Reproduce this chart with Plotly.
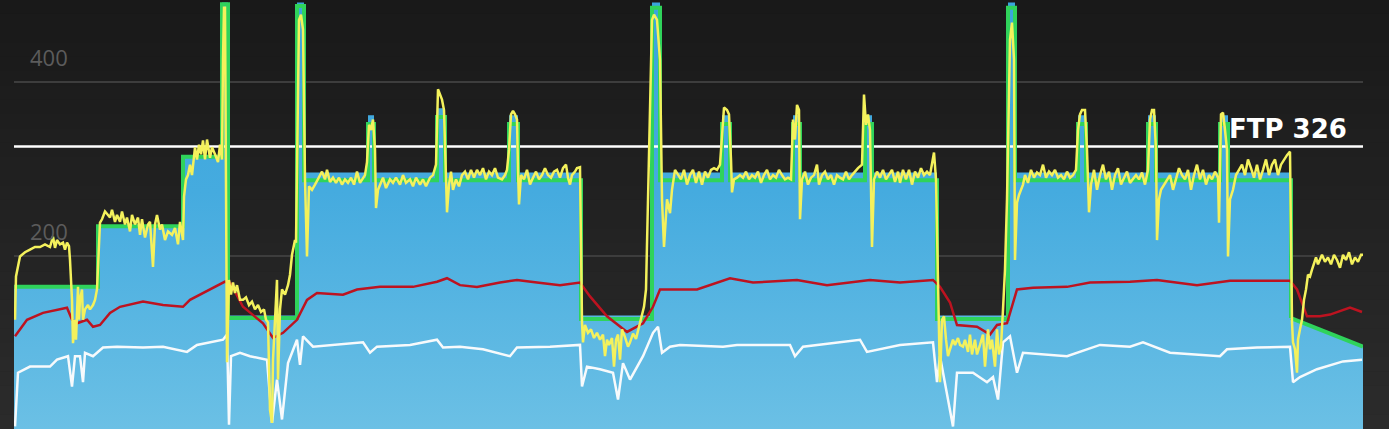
import plotly.graph_objects as go

# ---------------- data (time in seconds, values in watts) ----------------
t_target = [0, 336, 676, 832, 856, 1132, 1160, 1416, 1440, 1692, 1724, 1980, 2016, 2268,
            2552, 2584, 2832, 2864, 3116, 3144, 3404, 3432, 3692, 3976, 4004, 4256, 4288,
            4536, 4568, 4824, 4856, 5108]
target_range = [164, 234, 314, 492, 131, 492, 296, 362, 296, 370, 296, 362, 296, 131,
                492, 296, 362, 296, 362, 296, 362, 296, 131, 492, 296, 362, 296,
                362, 296, 362, 296, 128]
target = [164, 234, 314, 490, 128, 488, 287, 352, 287, 360, 287, 352, 287, 127,
          486, 287, 352, 287, 352, 287, 352, 287, 127, 486, 287, 352, 287,
          352, 287, 352, 287, 128]
t_cool = [5108, 5396]
cool_target = [128, 95]

t_power = [4, 8, 24, 44, 64, 84, 104, 124, 144, 156, 164, 172, 184, 196, 204, 212, 220, 224, 232, 236,
           244, 248, 256, 260, 264, 272, 276, 284, 296, 304, 316, 324, 332, 344, 352, 364, 376, 384, 392, 404,
           412, 424, 432, 444, 452, 464, 472, 484, 496, 504, 512, 524, 536, 544, 556, 564, 572, 584, 592, 604,
           616, 632, 644, 656, 664, 676, 680, 688, 696, 704, 712, 724, 732, 740, 748, 756, 764, 772, 784, 792,
           804, 816, 824, 832, 836, 840, 844, 848, 852, 860, 868, 876, 884, 892, 904, 916, 928, 940, 952, 964,
           976, 988, 1000, 1008, 1016, 1024, 1032, 1036, 1044, 1052, 1056, 1064, 1072, 1084, 1096, 1104, 1112, 1124, 1128, 1132,
           1140, 1148, 1156, 1164, 1172, 1180, 1192, 1204, 1216, 1232, 1244, 1252, 1264, 1276, 1288, 1300, 1312, 1324, 1336, 1348,
           1360, 1372, 1384, 1396, 1404, 1412, 1420, 1428, 1436, 1444, 1448, 1456, 1464, 1476, 1488, 1504, 1516, 1528, 1544, 1556,
           1568, 1584, 1596, 1608, 1624, 1636, 1648, 1664, 1676, 1688, 1696, 1704, 1712, 1720, 1728, 1732, 1740, 1748, 1756, 1768,
           1780, 1792, 1804, 1816, 1828, 1840, 1852, 1864, 1876, 1888, 1900, 1912, 1924, 1936, 1952, 1964, 1972, 1980, 1988, 1996,
           2004, 2012, 2016, 2020, 2028, 2040, 2052, 2064, 2076, 2088, 2100, 2112, 2124, 2136, 2148, 2160, 2172, 2184, 2196, 2208,
           2216, 2224, 2232, 2244, 2252, 2264, 2272, 2276, 2284, 2296, 2308, 2320, 2332, 2344, 2356, 2364, 2372, 2380, 2392, 2400,
           2408, 2416, 2424, 2432, 2444, 2456, 2464, 2476, 2488, 2504, 2520, 2528, 2536, 2544, 2552, 2560, 2572, 2584, 2592, 2600,
           2612, 2624, 2632, 2644, 2656, 2668, 2680, 2692, 2704, 2716, 2728, 2740, 2752, 2764, 2776, 2788, 2800, 2812, 2824, 2832,
           2840, 2852, 2860, 2868, 2872, 2880, 2892, 2904, 2916, 2928, 2940, 2952, 2964, 2976, 2988, 3000, 3012, 3024, 3036, 3048,
           3060, 3072, 3084, 3096, 3108, 3116, 3124, 3132, 3140, 3144, 3152, 3164, 3176, 3188, 3200, 3212, 3220, 3232, 3244, 3256,
           3268, 3280, 3292, 3304, 3316, 3328, 3340, 3352, 3364, 3376, 3392, 3400, 3408, 3416, 3424, 3432, 3440, 3452, 3464, 3476,
           3488, 3500, 3512, 3524, 3536, 3544, 3556, 3568, 3580, 3592, 3604, 3616, 3628, 3640, 3652, 3664, 3676, 3680, 3688, 3696,
           3704, 3712, 3720, 3728, 3736, 3744, 3756, 3764, 3776, 3784, 3796, 3804, 3816, 3824, 3832, 3844, 3852, 3864, 3876, 3884,
           3896, 3904, 3912, 3924, 3932, 3940, 3948, 3956, 3964, 3972, 3980, 3984, 3992, 4000, 4004, 4012, 4020, 4028, 4036, 4044,
           4056, 4068, 4080, 4092, 4104, 4116, 4128, 4140, 4152, 4164, 4176, 4188, 4200, 4212, 4224, 4236, 4248, 4256, 4264, 4272,
           4284, 4292, 4300, 4308, 4320, 4332, 4344, 4356, 4368, 4380, 4392, 4404, 4416, 4428, 4440, 4452, 4464, 4476, 4488, 4500,
           4512, 4524, 4536, 4544, 4552, 4560, 4568, 4572, 4580, 4588, 4600, 4612, 4624, 4636, 4648, 4660, 4672, 4684, 4696, 4708,
           4720, 4732, 4744, 4756, 4768, 4780, 4792, 4804, 4816, 4820, 4828, 4836, 4844, 4852, 4856, 4864, 4876, 4888, 4900, 4912,
           4924, 4936, 4948, 4960, 4972, 4984, 4996, 5008, 5020, 5032, 5044, 5056, 5068, 5080, 5092, 5104, 5112, 5116, 5124, 5132,
           5136, 5144, 5152, 5160, 5168, 5176, 5184, 5192, 5200, 5208, 5216, 5224, 5232, 5244, 5256, 5268, 5280, 5292, 5304, 5316,
           5328, 5340, 5352, 5364, 5376, 5388, 5396]
power = [126, 176, 199, 204, 207, 210, 210, 213, 210, 222, 209, 218, 213, 215, 207, 215, 211, 195, 149, 99,
         126, 103, 164, 126, 149, 161, 126, 138, 143, 138, 143, 149, 161, 238, 242, 251, 247, 244, 253, 239,
         247, 239, 251, 236, 244, 228, 247, 236, 244, 224, 242, 221, 236, 239, 187, 236, 247, 230, 236, 218,
         228, 224, 232, 213, 239, 218, 268, 288, 293, 305, 293, 325, 311, 328, 317, 333, 311, 334, 313, 325,
         317, 308, 328, 311, 426, 486, 486, 322, 77, 172, 155, 169, 157, 166, 149, 149, 152, 143, 147, 138,
         143, 135, 138, 126, 123, 22, 7, 80, 123, 172, 57, 138, 161, 155, 166, 178, 201, 218, 215, 322,
         472, 478, 461, 288, 199, 280, 276, 282, 288, 297, 288, 299, 285, 290, 284, 290, 282, 288, 284, 290,
         282, 297, 284, 290, 293, 308, 351, 345, 357, 322, 255, 276, 282, 290, 278, 288, 284, 290, 282, 293,
         284, 288, 280, 290, 282, 288, 280, 290, 293, 305, 392, 386, 380, 368, 293, 250, 282, 297, 276, 288,
         280, 293, 297, 288, 299, 290, 299, 293, 301, 288, 297, 293, 301, 290, 288, 293, 299, 322, 363, 367,
         363, 357, 299, 259, 293, 288, 299, 282, 290, 297, 288, 293, 301, 293, 290, 297, 299, 290, 301, 305,
         290, 282, 293, 297, 301, 302, 123, 100, 120, 111, 115, 105, 111, 103, 109, 84, 103, 97, 105, 72,
         103, 109, 80, 115, 106, 95, 100, 110, 104, 122, 141, 161, 276, 392, 472, 478, 472, 426, 265, 210,
         265, 249, 276, 299, 293, 288, 299, 282, 293, 299, 284, 297, 282, 297, 290, 299, 301, 299, 305, 345,
         371, 368, 363, 311, 273, 288, 290, 293, 290, 297, 288, 293, 290, 297, 284, 293, 299, 288, 293, 290,
         299, 293, 288, 290, 288, 357, 334, 374, 368, 242, 288, 297, 282, 290, 293, 305, 282, 293, 297, 288,
         293, 282, 293, 290, 288, 297, 288, 293, 297, 301, 305, 386, 351, 363, 345, 210, 288, 297, 290, 299,
         288, 293, 299, 285, 297, 284, 299, 288, 299, 282, 297, 290, 301, 293, 297, 293, 311, 319, 288, 161,
         54, 126, 130, 103, 84, 92, 103, 97, 105, 97, 95, 103, 89, 109, 86, 103, 86, 97, 109, 72,
         115, 92, 103, 72, 115, 86, 95, 138, 184, 265, 380, 449, 469, 426, 195, 261, 270, 276, 282, 293,
         284, 299, 290, 296, 293, 305, 290, 297, 293, 299, 290, 293, 288, 297, 290, 293, 299, 345, 363, 368,
         368, 322, 250, 282, 299, 276, 293, 305, 288, 297, 276, 293, 301, 282, 290, 297, 284, 288, 293, 288,
         296, 282, 299, 357, 368, 368, 322, 218, 265, 276, 282, 288, 293, 276, 290, 301, 293, 288, 299, 276,
         293, 305, 288, 299, 282, 293, 288, 297, 290, 238, 363, 365, 345, 322, 199, 265, 276, 293, 299, 305,
         293, 311, 301, 290, 305, 288, 299, 311, 293, 305, 311, 293, 305, 311, 316, 320, 123, 100, 92, 65,
         103, 115, 126, 149, 161, 178, 176, 184, 190, 198, 190, 195, 201, 193, 198, 190, 201, 195, 186, 201,
         195, 204, 190, 198, 193, 201, 201]

t_hr = [4, 52, 116, 212, 232, 252, 292, 316, 344, 384, 424, 516, 596, 676, 704, 784, 844, 864, 916, 996,
        1036, 1076, 1132, 1172, 1212, 1316, 1372, 1464, 1596, 1692, 1732, 1784, 1852, 1944, 2012, 2092, 2184, 2264, 2304, 2372,
        2452, 2516, 2556, 2584, 2664, 2732, 2864, 2956, 3132, 3252, 3424, 3544, 3676, 3704, 3744, 3772, 3852, 3904, 3932, 3972,
        4012, 4076, 4212, 4304, 4464, 4572, 4732, 4864, 5104, 5132, 5172, 5224, 5264, 5344, 5392]
heart_rate = [107, 126, 134, 140, 126, 122, 126, 118, 120, 134, 141, 147, 143, 141, 149, 161, 170, 169, 141, 122,
              105, 111, 126, 149, 157, 155, 161, 164, 164, 170, 174, 166, 164, 169, 172, 169, 166, 169, 153, 130,
              112, 122, 141, 161, 161, 161, 174, 169, 172, 166, 172, 169, 172, 164, 146, 120, 118, 109, 120, 122,
              161, 163, 164, 169, 170, 172, 166, 171, 171, 161, 130, 130, 132, 140, 135]

t_cad = [4, 16, 64, 144, 172, 216, 232, 244, 264, 276, 284, 316, 356, 412, 516, 596, 692, 732, 836, 852,
         860, 868, 904, 944, 1012, 1032, 1052, 1072, 1096, 1132, 1144, 1156, 1196, 1396, 1424, 1452, 1584, 1692, 1716, 1784,
         1876, 1984, 2012, 2144, 2264, 2272, 2292, 2344, 2396, 2416, 2436, 2464, 2516, 2556, 2576, 2592, 2624, 2664, 2836, 2892,
         3104, 3124, 3156, 3384, 3412, 3544, 3676, 3692, 3704, 3756, 3772, 3836, 3892, 3916, 3936, 3956, 3984, 4012, 4036, 4212,
         4344, 4464, 4516, 4624, 4824, 4852, 4972, 5104, 5116, 5144, 5212, 5316, 5392]
cadence = [3, 65, 72, 72, 80, 84, 49, 84, 84, 54, 88, 84, 94, 95, 94, 95, 89, 97, 103, 109,
           5, 84, 88, 84, 80, 7, 57, 11, 76, 103, 74, 107, 95, 100, 88, 95, 97, 103, 94, 95,
           92, 84, 94, 95, 97, 49, 72, 69, 65, 34, 76, 57, 84, 111, 118, 88, 95, 97, 95, 97,
           97, 84, 95, 103, 89, 97, 100, 54, 84, 3, 65, 65, 54, 60, 34, 100, 107, 65, 88, 84,
           97, 95, 100, 88, 84, 92, 94, 95, 54, 60, 69, 78, 80]

ftp = 326
y_ticks = [200, 400]

# ---------------- styling ----------------
BLUE_SCALE = [[0, "#6bc0e5"], [0.55, "#45abdf"], [1, "#3aa5dc"]]
GREEN = "#2fd35b"
YELLOW = "#f4f15c"
RED = "#bd1320"
WHITE = "#f7fafc"
T_END = 5396

fig = go.Figure()

fig.add_trace(go.Scatter(x=t_target, y=target_range, mode="lines", line=dict(width=0, shape="hv"),
                         fill="tozeroy", fillgradient=dict(type="vertical", colorscale=BLUE_SCALE, start=0, stop=495),
                         hoverinfo="skip", showlegend=False))
fig.add_trace(go.Scatter(x=t_cool, y=cool_target, mode="lines", line=dict(width=0),
                         fill="tozeroy", fillgradient=dict(type="vertical", colorscale=BLUE_SCALE, start=0, stop=495),
                         hoverinfo="skip", showlegend=False))
fig.add_trace(go.Scatter(x=[0, T_END], y=[ftp, ftp], mode="lines", line=dict(color="white", width=2.5),
                         hoverinfo="skip", showlegend=False))
fig.add_trace(go.Scatter(x=t_target, y=target, mode="lines", line=dict(color=GREEN, width=4, shape="hv"),
                         hoverinfo="skip", showlegend=False))
fig.add_trace(go.Scatter(x=t_cool, y=cool_target, mode="lines", line=dict(color=GREEN, width=4),
                         hoverinfo="skip", showlegend=False))
fig.add_trace(go.Scatter(x=t_cad, y=cadence, mode="lines", line=dict(color=WHITE, width=2.5),
                         hoverinfo="skip", showlegend=False))
fig.add_trace(go.Scatter(x=t_hr, y=heart_rate, mode="lines", line=dict(color=RED, width=2.5),
                         hoverinfo="skip", showlegend=False))
fig.add_trace(go.Scatter(x=t_power, y=power, mode="lines", line=dict(color=YELLOW, width=2.5),
                         hoverinfo="skip", showlegend=False))

# background gradient bands
shapes = []
n = 30
top = (25, 25, 25)
bot = (43, 43, 43)
for i in range(n):
    f = i / (n - 1)
    c = tuple(int(round(top[k] + (bot[k] - top[k]) * f)) for k in range(3))
    shapes.append(dict(type="rect", xref="paper", yref="paper", x0=-0.02, x1=1.03,
                       y0=1 - (i + 1) / n, y1=1 - i / n + 0.001, line=dict(width=0),
                       fillcolor="rgb(%d,%d,%d)" % c, layer="below"))

annotations = []
for v in y_ticks:
    annotations.append(dict(x=56, y=v, xref="x", yref="y", text=str(v), showarrow=False,
                            xanchor="left", yanchor="bottom", yshift=8,
                            font=dict(family="Open Sans", size=22, color="#5c5c5c")))
annotations.append(dict(x=5340, y=ftp, xref="x", yref="y", text="<b>FTP 326</b>", showarrow=False,
                        xanchor="right", yanchor="bottom", yshift=0,
                        font=dict(family="DejaVu Sans", size=26, color="white")))

fig.update_layout(
    width=1389, height=429,
    margin=dict(l=14, r=26, t=0, b=0),
    paper_bgcolor="#222222",
    plot_bgcolor="rgba(0,0,0,0)",
    shapes=shapes,
    annotations=annotations,
    hovermode=False,
    xaxis=dict(range=[0, T_END], visible=False, showgrid=False, zeroline=False),
    yaxis=dict(range=[0, 495], tickvals=y_ticks, showticklabels=False, showgrid=True,
               gridcolor="#3d3d3d", gridwidth=2, zeroline=False, showline=False, ticks=""),
    showlegend=False,
)

fig.write_html("out.html", config={"displayModeBar": False},
               post_script="document.body.style.margin='0px';document.body.style.background='#222222';")
